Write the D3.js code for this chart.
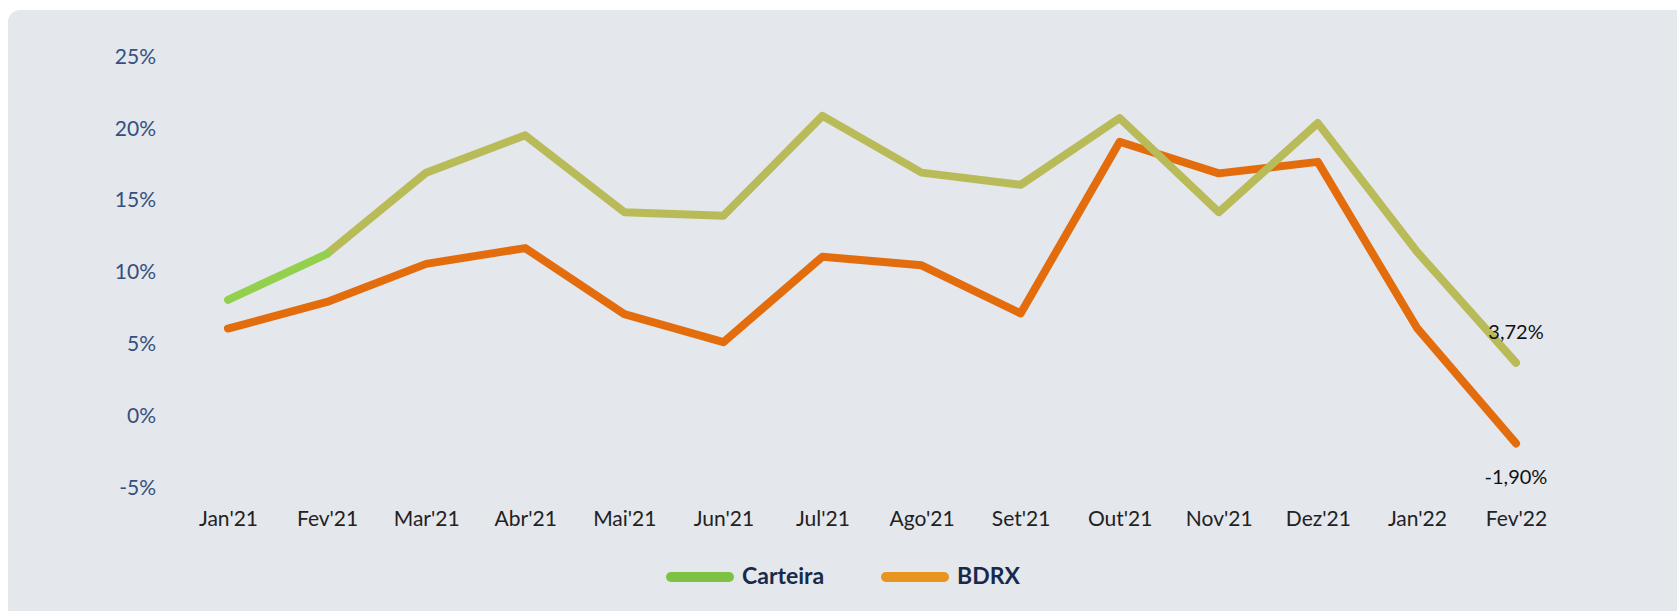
<!DOCTYPE html>
<html>
<head>
<meta charset="utf-8">
<script src="https://cdn.jsdelivr.net/npm/d3@7"></script>
<style>
  html, body { margin: 0; padding: 0; background: #fff; }
  #chart { width: 1677px; height: 611px; }
  text { font-family: Lato, "Noto Sans", sans-serif; }
</style>
</head>
<body>
<div id="chart"></div>
<script>
const months = ["Jan'21","Fev'21","Mar'21","Abr'21","Mai'21","Jun'21","Jul'21","Ago'21","Set'21","Out'21","Nov'21","Dez'21","Jan'22","Fev'22"];
const carteira = [8.1, 11.3, 16.95, 19.55, 14.2, 13.95, 20.9, 16.95, 16.1, 20.75, 14.2, 20.4, 11.45, 3.72];
const bdrx = [6.1, 7.95, 10.6, 11.7, 7.1, 5.15, 11.1, 10.5, 7.15, 19.1, 16.9, 17.7, 6.15, -1.90];
const yTicks = [-5, 0, 5, 10, 15, 20, 25];
const legendItems = [
  {name: "Carteira", color: "#7dc243"},
  {name: "BDRX", color: "#e8951f"}
];

const width = 1677;
const height = 611;

const svg = d3.select("#chart")
    .append("svg")
    .attr("width", width)
    .attr("height", height);

// panel background (runs off right/bottom edge)
svg.append("rect")
    .attr("x", 8)
    .attr("y", 10)
    .attr("width", width + 20)
    .attr("height", height + 20)
    .attr("rx", 12)
    .attr("fill", "#e4e7ec");

const xScale = d3.scalePoint()
    .domain(months)
    .range([228, 1516]);

const yScale = d3.scaleLinear()
    .domain([-5, 25])
    .range([488, 57]);

// y axis labels
const yAxis = d3.axisLeft(yScale)
    .tickValues(yTicks)
    .tickSize(0)
    .tickPadding(0)
    .tickFormat(d => d + "%");

svg.append("g")
    .attr("transform", "translate(156,0)")
    .call(yAxis)
    .call(g => g.select(".domain").remove())
    .selectAll("text")
      .attr("font-size", 21)
      .attr("fill", "#34507e")
      .attr("dy", "0.3em");

// x axis labels
const xAxis = d3.axisBottom(xScale)
    .tickSize(0)
    .tickPadding(0);

svg.append("g")
    .attr("transform", "translate(0,511)")
    .call(xAxis)
    .call(g => g.select(".domain").remove())
    .selectAll("text")
      .attr("font-size", 21)
      .attr("fill", "#222")
      .attr("dy", "0.71em");

const line = d3.line()
    .x(d => xScale(d.m))
    .y(d => yScale(d.v));

const cartData = months.map((m, i) => ({m: m, v: carteira[i]}));
const bdrxData = months.map((m, i) => ({m: m, v: bdrx[i]}));

svg.append("path")
    .datum(bdrxData)
    .attr("d", line)
    .attr("fill", "none")
    .attr("stroke", "#e36c0c")
    .attr("stroke-width", 8)
    .attr("stroke-linecap", "round")
    .attr("stroke-linejoin", "round");

// carteira: first segment green, rest olive
svg.append("path")
    .datum(cartData.slice(1))
    .attr("d", line)
    .attr("fill", "none")
    .attr("stroke", "#b8bb57")
    .attr("stroke-width", 8)
    .attr("stroke-linecap", "round")
    .attr("stroke-linejoin", "round");

svg.append("path")
    .datum(cartData.slice(0, 2))
    .attr("d", line)
    .attr("fill", "none")
    .attr("stroke", "#93d04e")
    .attr("stroke-width", 8)
    .attr("stroke-linecap", "round");

// end labels
const fmt = v => v.toFixed(2).replace(".", ",") + "%";
const last = months.length - 1;

svg.append("text")
    .attr("x", xScale(months[last]))
    .attr("y", yScale(carteira[last]) - 24)
    .attr("text-anchor", "middle")
    .attr("font-size", 20)
    .attr("fill", "#111")
    .text(fmt(carteira[last]));

svg.append("text")
    .attr("x", xScale(months[last]))
    .attr("y", yScale(bdrx[last]) + 41)
    .attr("text-anchor", "middle")
    .attr("font-size", 20)
    .attr("fill", "#111")
    .text(fmt(bdrx[last]));

// legend
const legend = svg.append("g")
    .selectAll("g")
    .data(legendItems)
    .enter()
    .append("g")
    .attr("transform", (d, i) => `translate(${671 + i * 215},577)`);

legend.append("line")
    .attr("x1", 0)
    .attr("x2", 58)
    .attr("stroke", d => d.color)
    .attr("stroke-width", 10)
    .attr("stroke-linecap", "round");

legend.append("text")
    .attr("x", 71)
    .attr("y", 7)
    .attr("font-size", 23)
    .attr("font-weight", "bold")
    .attr("fill", "#172a4b")
    .text(d => d.name);
</script>
</body>
</html>
